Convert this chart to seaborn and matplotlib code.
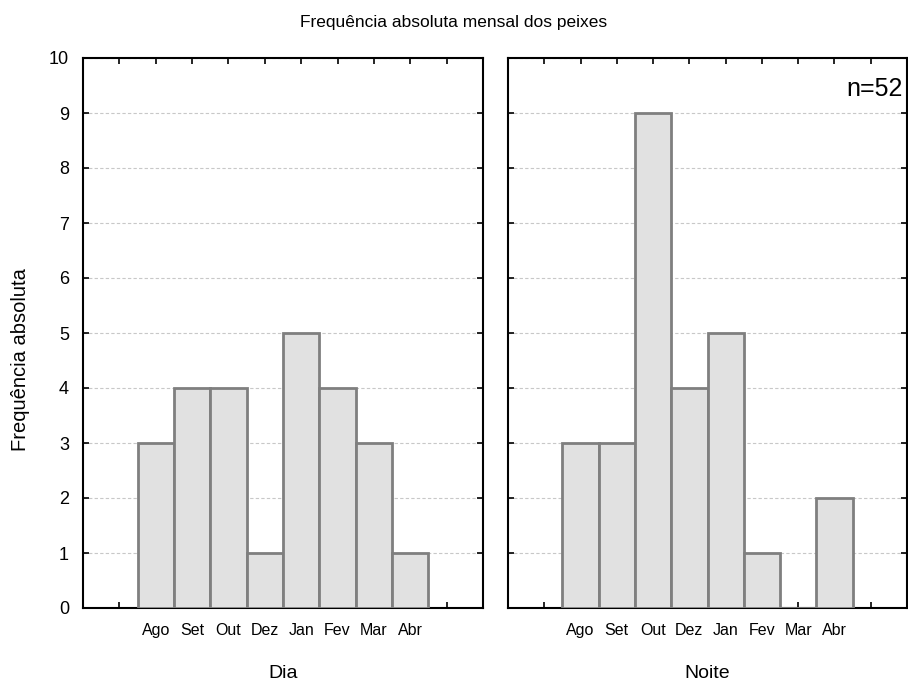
import pandas as pd
import seaborn as sns
import matplotlib.pyplot as plt

meses = ["Ago", "Set", "Out", "Dez", "Jan", "Fev", "Mar", "Abr"]
dia = [3, 4, 4, 1, 5, 4, 3, 1]
noite = [3, 3, 9, 4, 5, 1, 0, 2]
paineis = ["Dia", "Noite"]

df = pd.DataFrame({
    "Mes": meses * 2,
    "Freq": dia + noite,
    "Periodo": ["Dia"] * len(meses) + ["Noite"] * len(meses),
})

sns.set_style("white")
plt.rcParams['font.family'] = ['Liberation Sans', 'DejaVu Sans']
plt.rcParams['text.color'] = 'black'

fig = plt.figure(figsize=(9.08, 6.84), dpi=100)
bottom = (684 - 608) / 684
height = 550 / 684
ax1 = fig.add_axes([83 / 908, bottom, 400 / 908, height])
ax2 = fig.add_axes([508 / 908, bottom, 399 / 908, height])

for ax, periodo in zip([ax1, ax2], paineis):
    sub = df[df["Periodo"] == periodo]
    sns.barplot(data=sub, x="Mes", y="Freq", order=meses, ax=ax, width=1.0,
                color="#e1e1e1", edgecolor="#7f7f7f", linewidth=2, zorder=3)
    ax.set_xlim(-2, 9)
    ax.set_ylim(0, 10)
    ax.set_xticks(range(-1, 9))
    ax.set_xticklabels([""] + meses + [""], fontsize=11.5)
    ax.set_yticks(range(0, 11))
    ax.yaxis.grid(True, linestyle=(0, (3, 2)), color="#c8c8c8", linewidth=0.8, zorder=0)
    ax.set_axisbelow(True)
    ax.tick_params(direction="in", length=4, width=1.2, top=True, right=True,
                   left=True, bottom=True, pad=10, colors="black")
    ax.tick_params(axis="x", pad=11)
    for s in ax.spines.values():
        s.set_color("black")
        s.set_linewidth(1.5)
    ax.set_xlabel(periodo, fontsize=14, labelpad=19, color="black")
    ax.set_ylabel("")

ax1.set_yticklabels([str(v) for v in range(0, 11)], fontsize=13)
ax2.set_yticklabels([])

# y label sits a little below the panel centre in the original
fig.text(21 / 908, 1 - 360 / 684, "Frequência absoluta", rotation=90,
         ha="center", va="center", fontsize=14.5)
ax2.text(0.99, 0.943, "n=52", transform=ax2.transAxes, ha="right", va="center", fontsize=18)
fig.text(0.5, 1 - 23 / 684, "Frequência absoluta mensal dos peixes", ha="center", va="center", fontsize=12.5)

fig.savefig("out.png", dpi=100)
